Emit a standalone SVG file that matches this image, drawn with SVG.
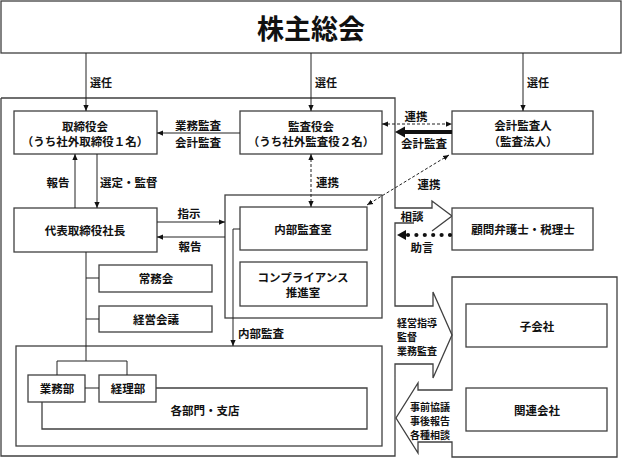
<svg xmlns="http://www.w3.org/2000/svg" width="622" height="459" viewBox="0 0 622 459">
<defs>
<style>
.bx{fill:#fff;stroke:#404040;stroke-width:1.3}
.fr{fill:none;stroke:#404040;stroke-width:1.3}
.ln{fill:none;stroke:#222;stroke-width:1}
.ds{fill:none;stroke:#222;stroke-width:1;stroke-dasharray:3 2}
.t{font-family:"Noto Sans CJK JP","Noto Sans CJK SC",sans-serif;font-size:11.5px;font-weight:bold;fill:#111;text-anchor:middle;dominant-baseline:central}
.s{font-family:"Noto Sans CJK JP","Noto Sans CJK SC",sans-serif;font-size:10px;font-weight:bold;fill:#111;text-anchor:start;dominant-baseline:central}
</style>
<marker id="ah" viewBox="0 0 8 8" refX="8" refY="4" markerWidth="6" markerHeight="6" markerUnits="userSpaceOnUse" orient="auto-start-reverse">
<path d="M0,0.5 L8,4 L0,7.5 z" fill="#111"/>
</marker>
</defs>

<g id="frames">
<path class="fr" d="M1,98 H395 V208 H432 V201 L452,216 L432,231"/>
<path class="fr" d="M414,223 H395 V306 H433 V292 L452,335 L433,378 V364 H395 V456 H1 V98"/>
<path class="fr" d="M452,277 H617 V457 H452 V442 H418 V453 L396,418 L418,383 V390 H452 Z"/>
<rect class="fr" x="225" y="195" width="157" height="123"/>
<rect class="fr" x="16" y="346" width="366" height="100"/>
<path class="fr" d="M156,388 H367 V429 H42 V402"/>
</g>

<g id="soukai"><rect class="bx" x="1" y="1" width="620" height="52"/><text class="t" x="311" y="27" style="font-size:27px">株主総会</text></g>
<g id="torishimariyakukai"><rect class="bx" x="14" y="111" width="143" height="43"/><text class="t" x="85" y="125.5">取締役会</text><text class="t" x="85" y="141">（うち社外取締役１名）</text></g>
<g id="kansayakukai"><rect class="bx" x="240" y="111" width="142" height="43"/><text class="t" x="311" y="125.5">監査役会</text><text class="t" x="311" y="141">（うち社外監査役２名）</text></g>
<g id="kaikeikansanin"><rect class="bx" x="452" y="111" width="141" height="43"/><text class="t" x="523" y="125">会計監査人</text><text class="t" x="523" y="140.5">（監査法人）</text></g>
<g id="daihyo"><rect class="bx" x="14" y="208" width="143" height="44"/><text class="t" x="85" y="230">代表取締役社長</text></g>
<g id="naibukansa"><rect class="bx" x="240" y="207" width="127" height="43"/><text class="t" x="303" y="229">内部監査室</text></g>
<g id="compliance"><rect class="bx" x="240" y="262" width="127" height="44"/><text class="t" x="303" y="276.5">コンプライアンス</text><text class="t" x="303" y="292">推進室</text></g>
<g id="komon"><rect class="bx" x="452" y="208" width="141" height="42"/><text class="t" x="523" y="229">顧問弁護士・税理士</text></g>
<g id="jomukai"><rect class="bx" x="99" y="265" width="113" height="27"/><text class="t" x="156" y="278">常務会</text></g>
<g id="keieikaigi"><rect class="bx" x="99" y="306" width="113" height="26"/><text class="t" x="156" y="319">経営会議</text></g>
<g id="gyomubu"><rect class="bx" x="28" y="375" width="57" height="27"/><text class="t" x="57" y="388">業務部</text></g>
<g id="keiribu"><rect class="bx" x="99" y="375" width="57" height="27"/><text class="t" x="128" y="388">経理部</text></g>
<g id="kakubumon"><text class="t" x="205" y="410">各部門・支店</text></g>
<g id="kogaisha"><rect class="bx" x="466" y="304" width="141" height="43"/><text class="t" x="537" y="326">子会社</text></g>
<g id="kanrengaisha"><rect class="bx" x="466" y="388" width="141" height="43"/><text class="t" x="537" y="410">関連会社</text></g>

<g id="connectors">
<path class="ln" d="M86,53 V111" marker-end="url(#ah)"/>
<path class="ln" d="M311,53 V111" marker-end="url(#ah)"/>
<path class="ln" d="M523,53 V111" marker-end="url(#ah)"/>
<path class="ln" d="M240,133 H157" marker-end="url(#ah)"/>
<path class="ds" d="M382,124 H452" marker-start="url(#ah)" marker-end="url(#ah)"/>
<path d="M452,132 H403" stroke="#111" stroke-width="4" fill="none"/>
<polygon points="395,132 405,126.5 405,137.5" fill="#111"/>
<path class="ds" d="M311,154 V207" marker-start="url(#ah)" marker-end="url(#ah)"/>
<path class="ds" d="M449,155 L367,205" marker-start="url(#ah)" marker-end="url(#ah)"/>
<path class="ln" d="M75,208 V154" marker-end="url(#ah)"/>
<path class="ln" d="M97,154 V208" marker-end="url(#ah)"/>
<path class="ln" d="M157,222 H225" marker-end="url(#ah)"/>
<path class="ln" d="M225,237 H157" marker-end="url(#ah)"/>
<path class="ln" d="M240,229 H233 V346" marker-end="url(#ah)"/>
<path class="ln" d="M86,252 V361 M86,278 H99 M86,319 H99 M57,375 V361 H127 V375 M85,388 H99"/>
<path d="M450,235 H406" stroke="#111" stroke-width="4.2" stroke-linecap="round" stroke-dasharray="0 8.4" fill="none"/>
<polygon points="397,235 406,230 406,240" fill="#111"/>
</g>

<g id="labels">
<text class="s" x="90" y="82" style="font-size:11px">選任</text>
<text class="s" x="315" y="82" style="font-size:11px">選任</text>
<text class="s" x="527" y="82" style="font-size:11px">選任</text>
<text class="t" x="198" y="125">業務監査</text>
<text class="t" x="198" y="142">会計監査</text>
<text class="t" x="416" y="116">連携</text>
<text class="t" x="424" y="143">会計監査</text>
<text class="s" x="316" y="182" style="font-size:11.5px">連携</text>
<text class="t" x="429" y="184">連携</text>
<text class="t" x="58" y="182">報告</text>
<text class="s" x="100" y="182" style="font-size:11.5px">選定・監督</text>
<text class="t" x="189" y="213">指示</text>
<text class="t" x="190" y="246">報告</text>
<text class="t" x="412" y="216">相談</text>
<text class="t" x="422" y="247">助言</text>
<text class="s" x="238" y="333" style="font-size:11.5px">内部監査</text>
<text class="s" x="397" y="322">経営指導</text>
<text class="s" x="397" y="336">監督</text>
<text class="s" x="397" y="350">業務監査</text>
<text class="s" x="410" y="406">事前協議</text>
<text class="s" x="410" y="420">事後報告</text>
<text class="s" x="410" y="434">各種相談</text>
</g>
</svg>
